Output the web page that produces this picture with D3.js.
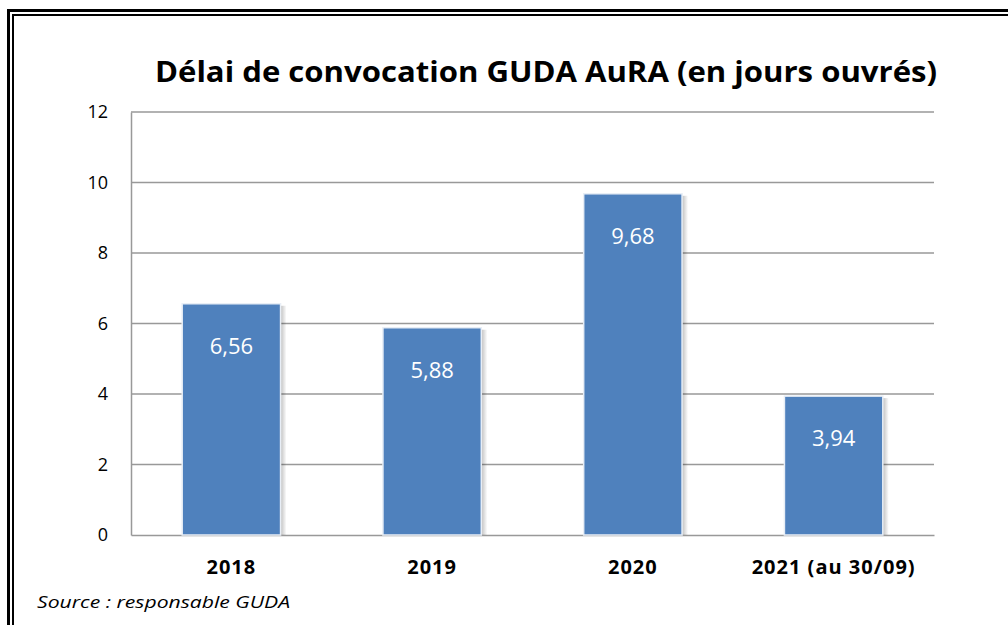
<!DOCTYPE html>
<html>
<head>
<meta charset="utf-8">
<script src="https://cdn.jsdelivr.net/npm/d3@7"></script>
<style>
  body { margin: 0; background: #fff; }
  svg { display: block; }
</style>
</head>
<body>
<svg id="chart" width="1008" height="625"></svg>
<script>
const categories = ["2018", "2019", "2020", "2021 (au 30/09)"];
const values = [6.56, 5.88, 9.68, 3.94];
const yTicks = [0, 2, 4, 6, 8, 10, 12];
const title = "Délai de convocation GUDA AuRA (en jours ouvrés)";
const source = "Source : responsable GUDA";

const svg = d3.select("#chart");
const width = 1008;
const height = 625;
const margin = { top: 112, right: 74, bottom: 90, left: 131 };
const graphWidth = width - margin.left - margin.right;
const graphHeight = height - margin.top - margin.bottom;
const font = "'Open Sans', sans-serif";

// double cadre
svg.append("rect")
  .attr("x", 8.5).attr("y", 10.5)
  .attr("width", width + 20).attr("height", height + 20)
  .attr("fill", "none").attr("stroke", "#000").attr("stroke-width", 3);
svg.append("rect")
  .attr("x", 13).attr("y", 15)
  .attr("width", width + 20).attr("height", height + 20)
  .attr("fill", "none").attr("stroke", "#000").attr("stroke-width", 2);

const defs = svg.append("defs");
const shadow = defs.append("linearGradient").attr("id", "shadow");
shadow.append("stop").attr("offset", "0%").attr("stop-color", "#000").attr("stop-opacity", 0.25);
shadow.append("stop").attr("offset", "100%").attr("stop-color", "#000").attr("stop-opacity", 0);

const x = d3.scaleBand().domain(categories).range([0, graphWidth])
  .paddingInner(0.51).paddingOuter(0.255);
const y = d3.scaleLinear().domain([0, 12]).range([graphHeight, 0]);

const graph = svg.append("g")
  .attr("transform", `translate(${margin.left},${margin.top})`);

// grille
graph.selectAll(".grid")
  .data(yTicks.filter(d => d > 0))
  .enter().append("line")
  .attr("class", "grid")
  .attr("x1", 0).attr("x2", graphWidth)
  .attr("y1", d => y(d)).attr("y2", d => y(d))
  .attr("stroke", "#999").attr("stroke-width", 1.5);

// axe Y
const yAxis = graph.append("g")
  .call(d3.axisLeft(y).tickValues(yTicks).tickSize(0).tickPadding(23));
yAxis.select(".domain").attr("stroke", "#999").attr("stroke-width", 1.5);
yAxis.selectAll("text")
  .attr("font-family", font).attr("font-size", 18).attr("fill", "#000");

// axe X
const xAxis = graph.append("g")
  .attr("transform", `translate(0,${graphHeight})`)
  .call(d3.axisBottom(x).tickSize(0).tickPadding(25));
xAxis.select(".domain").attr("stroke", "#999").attr("stroke-width", 1.5);
xAxis.selectAll("text")
  .attr("font-family", font).attr("font-size", 20)
  .attr("letter-spacing", 1)
  .attr("font-weight", "bold").attr("fill", "#000");

// barres
const bars = graph.selectAll(".bar")
  .data(values)
  .enter().append("g")
  .attr("class", "bar");

bars.append("rect")
  .attr("x", (d, i) => x(categories[i]) + x.bandwidth())
  .attr("y", d => y(d) + 2)
  .attr("width", 6)
  .attr("height", d => graphHeight - y(d) - 2)
  .attr("fill", "url(#shadow)");

bars.append("rect")
  .attr("x", (d, i) => x(categories[i]))
  .attr("y", d => y(d))
  .attr("width", x.bandwidth())
  .attr("height", d => graphHeight - y(d))
  .attr("fill", "#4f81bd")
  .attr("stroke", "#e8eef6")
  .attr("stroke-width", 1.5);

bars.append("text")
  .attr("x", (d, i) => x(categories[i]) + x.bandwidth() / 2)
  .attr("y", d => y(d) + 50)
  .attr("text-anchor", "middle")
  .attr("font-family", font)
  .attr("font-size", 22)
  .attr("fill", "#fff")
  .text(d => d.toFixed(2).replace(".", ","));

// titre
svg.append("text")
  .attr("x", 546).attr("y", 82)
  .attr("text-anchor", "middle")
  .attr("font-family", font)
  .attr("font-size", 29)
  .attr("font-weight", "bold")
  .attr("textLength", 782)
  .attr("lengthAdjust", "spacingAndGlyphs")
  .text(title);

// source
svg.append("text")
  .attr("x", 37).attr("y", 608)
  .attr("font-family", font)
  .attr("font-size", 17)
  .attr("font-style", "italic")
  .attr("textLength", 253)
  .attr("lengthAdjust", "spacingAndGlyphs")
  .text(source);
</script>
</body>
</html>
